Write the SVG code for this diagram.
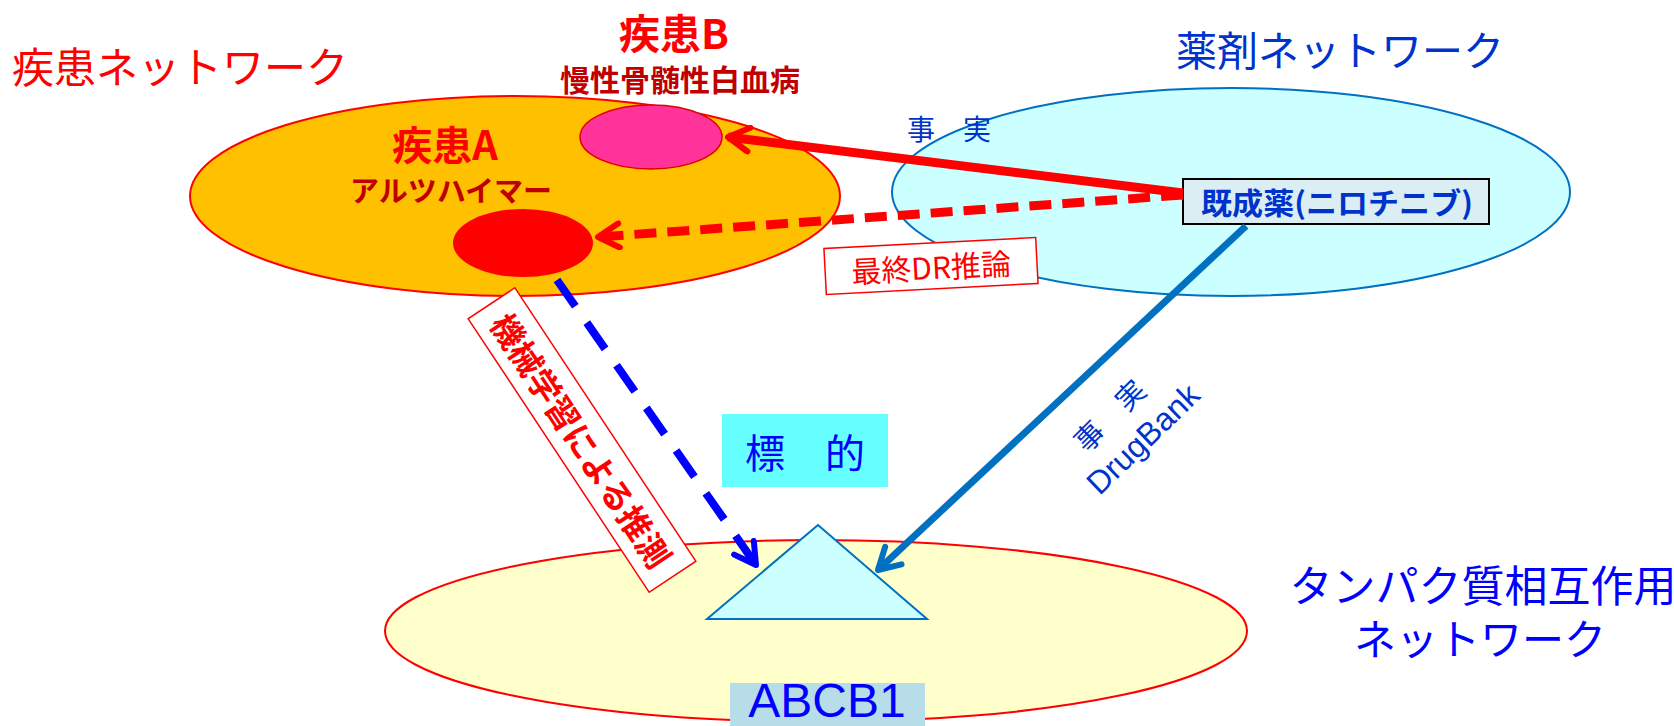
<svg xmlns="http://www.w3.org/2000/svg" width="1674" height="726" viewBox="0 0 1674 726">
<style>
text{font-family:"Noto Sans CJK JP","Liberation Sans",sans-serif;dominant-baseline:central;text-anchor:middle}
.red{fill:#FF0000}
.dred{fill:#C00000;font-weight:bold}
.blue{fill:#0000FF}
.dblue{fill:#0033CC}
.b{font-weight:bold}
.lat{font-family:"Liberation Sans",sans-serif}
</style>
<defs>
<marker id="hr" viewBox="0 0 30 30" refX="26" refY="15" markerWidth="30" markerHeight="30" markerUnits="userSpaceOnUse" orient="auto">
<path d="M5,3 L26,15 L5,27" fill="none" stroke="#FF0000" stroke-width="6" stroke-linecap="round" stroke-linejoin="round" stroke-dasharray="none"/>
</marker>
<marker id="hb" viewBox="0 0 30 30" refX="26" refY="15" markerWidth="30" markerHeight="30" markerUnits="userSpaceOnUse" orient="auto">
<path d="M5,3 L26,15 L5,27" fill="none" stroke="#0000FF" stroke-width="6" stroke-linecap="round" stroke-linejoin="round" stroke-dasharray="none"/>
</marker>
<marker id="hc" viewBox="0 0 30 30" refX="26" refY="15" markerWidth="30" markerHeight="30" markerUnits="userSpaceOnUse" orient="auto">
<path d="M5,3 L26,15 L5,27" fill="none" stroke="#0070C0" stroke-width="6" stroke-linecap="round" stroke-linejoin="round" stroke-dasharray="none"/>
</marker>
</defs>
<rect width="1674" height="726" fill="#FFFFFF"/>

<g id="ppi-network">
<ellipse cx="816" cy="631" rx="431" ry="91" fill="#FFFFCC" stroke="#FF0000" stroke-width="2"/>
<text x="1483" y="583" class="blue" font-size="43">タンパク質相互作用</text>
<text x="1480" y="636" class="blue" font-size="42">ネットワーク</text>
</g>

<g id="disease-network">
<ellipse cx="515" cy="196" rx="325" ry="100" fill="#FFC000" stroke="#FF0000" stroke-width="2"/>
<text x="180" y="64" class="red" font-size="42">疾患ネットワーク</text>
</g>

<g id="drug-network">
<ellipse cx="1231" cy="192" rx="339" ry="104" fill="#CCFFFF" stroke="#0070C0" stroke-width="2"/>
<text x="1340" y="48" class="dblue" font-size="41">薬剤ネットワーク</text>
</g>

<g id="disease-b">
<ellipse cx="651" cy="137" rx="71" ry="32" fill="#FF3399" stroke="#E00000" stroke-width="1.5"/>
<text x="674" y="31" class="red b" font-size="41">疾患B</text>
<text x="680" y="78" class="dred" font-size="30">慢性骨髄性白血病</text>
</g>

<g id="disease-a">
<ellipse cx="523" cy="243" rx="70" ry="34" fill="#FF0000"/>
<text x="445" y="143" class="red b" font-size="40">疾患A</text>
<text x="451" y="189" class="dred" font-size="29">アルツハイマー</text>
</g>

<g id="drug">
<rect x="1183" y="179" width="306" height="45" fill="#DAEEF3" stroke="#000000" stroke-width="2"/>
<text x="1337" y="201" class="dblue b" font-size="30" textLength="272" lengthAdjust="spacingAndGlyphs">既成薬(ニロチニブ)</text>
</g>

<g id="target">
<polygon points="818,525 707,619 927,619" fill="#CCFFFF" stroke="#0070C0" stroke-width="2"/>
<rect x="722" y="414" width="166" height="73" fill="#66FFFF"/>
<text x="805" y="451" class="blue" font-size="40">標　的</text>
<rect x="730" y="683" width="195" height="45" fill="#B7DDE8"/>
<text x="827" y="717" class="blue lat" font-size="48" style="dominant-baseline:alphabetic">ABCB1</text>
</g>

<g id="connectors">
<line x1="1183" y1="193" x2="728" y2="137" stroke="#FF0000" stroke-width="9" marker-end="url(#hr)"/>
<line x1="1183" y1="195" x2="598" y2="237" stroke="#FF0000" stroke-width="9" stroke-dasharray="22,11" marker-end="url(#hr)"/>
<line x1="557" y1="280" x2="756" y2="565" stroke="#0000FF" stroke-width="8" stroke-dasharray="32,20" marker-end="url(#hb)"/>
<line x1="1246" y1="226" x2="878" y2="570" stroke="#0070C0" stroke-width="7" marker-end="url(#hc)"/>
</g>

<g id="label-fact-top">
<text x="949" y="128" class="dblue" font-size="28">事　実</text>
</g>

<g id="label-final-dr">
<g transform="translate(931,266) rotate(-3)">
<rect x="-106" y="-23" width="212" height="46" fill="#FFFFFF" stroke="#FF0000" stroke-width="1.5"/>
<text x="0" y="0" class="red" font-size="30">最終DR推論</text>
</g>
</g>

<g id="label-ml">
<g transform="translate(582,440) rotate(56.5)">
<rect x="-164" y="-28" width="328" height="56" fill="#FFFFFF" stroke="#FF0000" stroke-width="1.5"/>
<text x="0" y="0" class="red b" font-size="33">機械学習による推測</text>
</g>
</g>

<g id="label-drugbank">
<g transform="translate(1108,414) rotate(-45)">
<text x="0" y="0" class="dblue" font-size="29">事　実</text>
</g>
<g transform="translate(1143,439) rotate(-44)">
<text x="0" y="0" class="dblue lat" font-size="32">DrugBank</text>
</g>
</g>
</svg>
